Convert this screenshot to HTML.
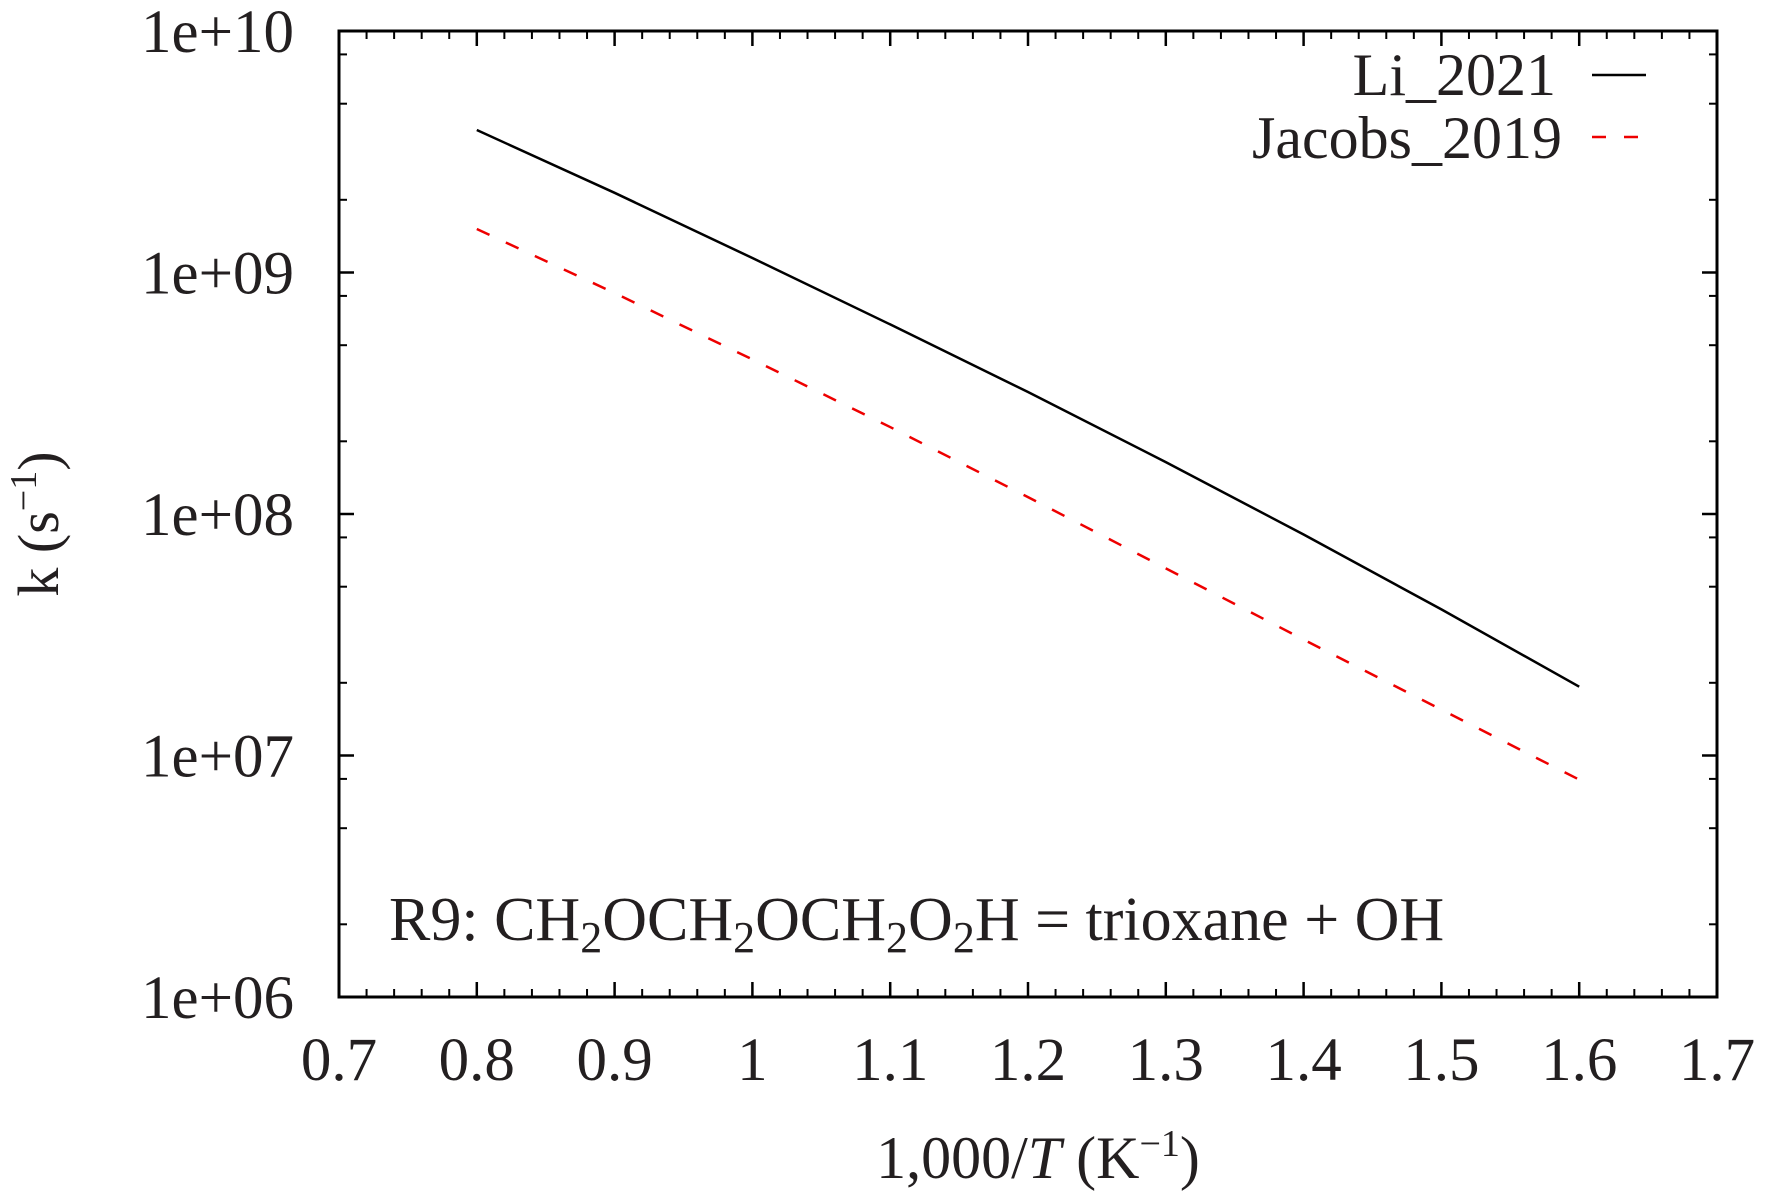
<!DOCTYPE html>
<html><head><meta charset="utf-8"><style>
body{margin:0;background:#fff}
svg{display:block}
text{font-family:"Liberation Serif",serif;fill:#231f20}
</style></head><body>
<svg id="chart" width="1772" height="1197" viewBox="0 0 1772 1197">
<g id="ticks"></g>
<g id="series"></g>
<rect x="339" y="31" width="1378" height="966" fill="none" stroke="#000" stroke-width="3"/>
<g>
<text x="1556" y="95" font-size="60" text-anchor="end">Li_2021</text>
<line x1="1592" y1="75" x2="1646" y2="75" stroke="#000" stroke-width="2.5"/>
<text x="1562" y="158" font-size="60" text-anchor="end">Jacobs_2019</text>
<line x1="1592" y1="137" x2="1640" y2="137" stroke="#e00" stroke-width="2.5" stroke-dasharray="14,18"/>
</g>
<text x="389" y="940" font-size="62">R9: CH<tspan font-size="44" dy="12">2</tspan><tspan dy="-12">OCH</tspan><tspan font-size="44" dy="12">2</tspan><tspan dy="-12">OCH</tspan><tspan font-size="44" dy="12">2</tspan><tspan dy="-12">O</tspan><tspan font-size="44" dy="12">2</tspan><tspan dy="-12">H = trioxane + OH</tspan></text>
<text transform="translate(58,524) rotate(-90)" font-size="58" text-anchor="middle">k (s<tspan font-size="38" dy="-22">−1</tspan><tspan dy="22">)</tspan></text>
<text x="1038" y="1178" font-size="60" text-anchor="middle">1,000/<tspan font-style="italic">T</tspan> (K<tspan font-size="38" dy="-22">−1</tspan><tspan dy="22">)</tspan></text>
</svg>
<script>
const xTicks=[0.7,0.8,0.9,1,1.1,1.2,1.3,1.4,1.5,1.6,1.7];
const yTicksExp=[6,7,8,9,10];
const xs=[0.8,0.9,1.0,1.1,1.2,1.3,1.4,1.5,1.6];
const liLog=[9.59,9.33,9.06,8.785,8.505,8.215,7.915,7.605,7.285];
const jacobsLog=[9.18,8.915,8.64,8.36,8.07,7.775,7.48,7.19,6.90];
const X0=339,X1=1717,Y0=997,Y1=31;
const sx=v=>X0+(v-0.7)/(1.0)*(X1-X0);
const sy=l=>Y0-(l-6)/4*(Y0-Y1);
const NS='http://www.w3.org/2000/svg';
const tg=document.getElementById('ticks'),sg=document.getElementById('series');
function ln(g,x1,y1,x2,y2,w,name){const e=document.createElementNS(NS,'line');e.setAttribute('x1',x1);e.setAttribute('y1',y1);e.setAttribute('x2',x2);e.setAttribute('y2',y2);e.setAttribute('stroke','#000');e.setAttribute('stroke-width',w);


g.appendChild(e);return e;}
function tx(x,y,s,anchor,name){const e=document.createElementNS(NS,'text');e.setAttribute('x',x);e.setAttribute('y',y);e.setAttribute('font-size','61');e.setAttribute('text-anchor',anchor);e.textContent=s;


tg.appendChild(e);}
xTicks.forEach((v,i)=>{const x=sx(v);ln(tg,x,Y0,x,Y0-15,2.5,'x-major-tick');ln(tg,x,Y1,x,Y1+15,2.5,'x-major-tick-top');
tx(x,1080,String(v),'middle','x-tick-label');
if(i<xTicks.length-1)for(let k=1;k<5;k++){const xm=sx(v+k*0.02);ln(tg,xm,Y0,xm,Y0-8,2,'x-minor-tick');ln(tg,xm,Y1,xm,Y1+8,2,'x-minor-tick-top');}});
yTicksExp.forEach((p,i)=>{const y=sy(p);ln(tg,X0,y,X0+15,y,2.5,'y-major-tick');ln(tg,X1,y,X1-15,y,2.5,'y-major-tick-right');
tx(294,y+21,'1e+'+String(p).padStart(2,'0'),'end','y-tick-label');
if(i<yTicksExp.length-1)[2,5,8].forEach(m=>{const ym=sy(p+Math.log10(m));ln(tg,X0,ym,X0+8,ym,2,'y-minor-tick');ln(tg,X1,ym,X1-8,ym,2,'y-minor-tick-right');});});
function series(vals,color,dash,name){const p=document.createElementNS(NS,'polyline');p.setAttribute('points',xs.map((x,i)=>sx(x)+','+sy(vals[i])).join(' '));p.setAttribute('fill','none');p.setAttribute('stroke',color);p.setAttribute('stroke-width','2.5');p.setAttribute('stroke-linejoin','round');if(dash)p.setAttribute('stroke-dasharray',dash);


sg.appendChild(p);}
series(liLog,'#000',null,'series-li-2021');
series(jacobsLog,'#e00','14,18','series-jacobs-2019');
</script>
</body></html>
